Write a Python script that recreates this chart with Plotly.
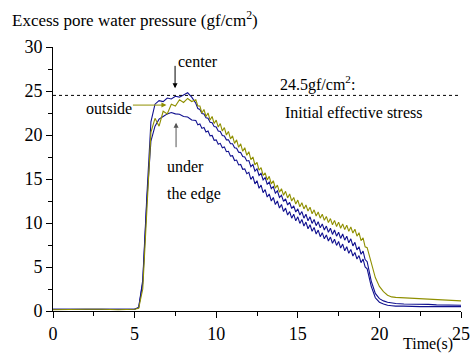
import numpy as np
import plotly.graph_objects as go

# time axis (s)
t_head = [0, 1, 2, 3, 4]
t_rise = [5.0, 5.25, 5.5, 5.75, 6.0, 6.25, 6.5, 6.75, 7.0, 7.25, 7.5, 7.75, 8.0, 8.25, 8.5]
t_fine = [float(v) for v in np.round(np.arange(8.75, 19.2501, 0.125), 3)]
t_drop = [19.5, 19.75, 20.0, 20.25, 20.5, 20.75, 21.0]
t_tail = [21.5, 22, 22.5, 23, 23.5, 24, 24.5, 25]
time = t_head + t_rise + t_fine + t_drop + t_tail

# excess pore water pressure (gf/cm2) — "center"
center_head = [0.2, 0.2, 0.25, 0.2, 0.2]
center_rise = [0.2, 0.4, 3.5, 13.0, 21.5, 23.5, 23.9, 23.8, 24.2, 24.1, 24.4, 24.3, 24.6, 24.8, 24.3]
center_fine = [23.6, 23.0, 22.9, 22.45, 22.4, 21.95, 21.9, 21.45, 21.4, 20.95, 20.9, 20.45, 20.4, 19.95,
               19.9, 19.45, 19.45, 19.0, 19.0, 18.55, 18.5, 18.05, 18.0, 17.55, 17.5, 17.05,
               17.1, 16.4, 16.65, 15.9, 16.15, 15.4, 15.65, 14.9, 15.15, 14.4, 14.65, 13.9, 14.15, 13.4,
               13.65, 12.9, 13.15, 12.45, 12.75, 12.05, 12.35, 11.65, 11.95, 11.25, 11.6, 10.9, 11.3, 10.55,
               11.0, 10.25, 10.7, 9.95, 10.4, 9.7, 10.15, 9.45, 9.9, 9.2, 9.65, 8.95, 9.4, 8.7, 9.2, 8.5,
               8.95, 8.25, 8.75, 8.05, 8.5, 7.75, 8.2, 7.4, 7.8, 6.95, 7.3, 6.45, 6.8, 5.85, 5.6]
center_drop = [3.4, 2.0, 1.4, 1.15, 1.0, 0.9, 0.85]
center_tail = [0.8, 0.8, 0.75, 0.75, 0.7, 0.7, 0.65, 0.65]

# "under the edge"
edge_head = [0.2, 0.2, 0.2, 0.25, 0.2]
edge_rise = [0.2, 0.4, 3.2, 12.5, 19.3, 21.0, 21.8, 22.1, 22.4, 22.55, 22.4, 22.35, 22.1, 22.05, 21.7]
edge_fine = [21.65, 21.15, 21.25, 20.75, 20.85, 20.35, 20.45, 19.9, 19.95, 19.4, 19.45, 18.95, 19.05, 18.55,
             18.65, 18.1, 18.15, 17.6, 17.65, 17.1, 17.15, 16.6, 16.65, 16.1, 16.15, 15.6,
             15.75, 14.95, 15.3, 14.45, 14.8, 13.95, 14.3, 13.45, 13.8, 12.95, 13.3, 12.5, 12.9, 12.1,
             12.5, 11.7, 12.1, 11.3, 11.7, 10.9, 11.3, 10.55, 11.0, 10.25, 10.7, 9.95, 10.4, 9.65,
             10.1, 9.35, 9.8, 9.05, 9.5, 8.75, 9.2, 8.45, 8.9, 8.2, 8.65, 7.95, 8.4, 7.7, 8.15, 7.45,
             7.9, 7.15, 7.6, 6.85, 7.3, 6.55, 7.0, 6.25, 6.65, 5.9, 6.3, 5.5, 5.9, 5.0, 4.8]
edge_drop = [2.8, 1.5, 1.0, 0.8, 0.65, 0.6, 0.55]
edge_tail = [0.55, 0.5, 0.5, 0.5, 0.5, 0.5, 0.5, 0.5]

# "outside"
outside_head = [0.15, 0.2, 0.2, 0.2, 0.15]
outside_rise = [0.2, 0.3, 2.5, 11.5, 20.3, 21.9, 21.0, 22.7, 22.4, 23.5, 23.3, 24.0, 23.7, 24.15, 23.8]
outside_fine = [24.0, 23.3, 23.3, 22.5, 22.9, 22.1, 22.5, 21.7, 22.1, 21.3, 21.7, 20.9, 21.3, 20.45,
                20.85, 20.0, 20.4, 19.55, 19.9, 19.05, 19.45, 18.6, 19.0, 18.15, 18.55, 17.7,
                18.1, 17.2, 17.5, 16.6, 16.9, 16.0, 16.3, 15.4, 15.7, 14.9, 15.3, 14.45, 14.8, 13.95,
                14.3, 13.5, 13.9, 13.15, 13.6, 12.85, 13.3, 12.5, 12.9, 12.15, 12.6, 11.85, 12.3, 11.6,
                12.05, 11.35, 11.8, 11.05, 11.5, 10.8, 11.25, 10.55, 11.0, 10.3, 10.75, 10.05, 10.5, 9.8,
                10.3, 9.6, 10.1, 9.4, 9.9, 9.25, 9.75, 9.05, 9.55, 8.85, 9.3, 8.5, 8.9, 8.0, 8.3, 7.3, 7.2]
outside_drop = [5.5, 3.8, 2.8, 2.2, 1.8, 1.6, 1.55]
outside_tail = [1.5, 1.5, 1.45, 1.4, 1.35, 1.25, 1.2, 1.15]

center = center_head + center_rise + center_fine + center_drop + center_tail
edge = edge_head + edge_rise + edge_fine + edge_drop + edge_tail
outside = outside_head + outside_rise + outside_fine + outside_drop + outside_tail

initial_stress = 24.5
x_ticks = [0, 5, 10, 15, 20, 25]
y_ticks = [0, 5, 10, 15, 20, 25, 30]

BLUE = "#10108f"
OLIVE = "#8f8f00"
FONT = "Times New Roman"

fig = go.Figure()
fig.add_trace(go.Scatter(x=time, y=edge, mode="lines", line=dict(color=BLUE, width=1.1), showlegend=False))
fig.add_trace(go.Scatter(x=time, y=center, mode="lines", line=dict(color=BLUE, width=1.1), showlegend=False))
fig.add_trace(go.Scatter(x=time, y=outside, mode="lines", line=dict(color=OLIVE, width=1.1), showlegend=False))

fig.add_shape(type="line", x0=0, x1=25, y0=initial_stress, y1=initial_stress, xref="x", yref="y",
              line=dict(color="black", width=1, dash="dot"))

ann = []
# arrows
ann.append(dict(x=7.48, y=25.3, ax=0, ay=-24, xref="x", yref="y", text="", showarrow=True,
                arrowhead=2, arrowsize=1, arrowwidth=1, arrowcolor="black"))
ann.append(dict(x=6.95, y=23.4, ax=-35, ay=0, xref="x", yref="y", text="", showarrow=True,
                arrowhead=2, arrowsize=1, arrowwidth=1, arrowcolor=OLIVE))
ann.append(dict(x=7.54, y=21.4, ax=0, ay=26, xref="x", yref="y", text="", showarrow=True,
                arrowhead=2, arrowsize=1, arrowwidth=1, arrowcolor="#555555"))
# labels
lab = dict(xref="x", yref="y", showarrow=False, font=dict(family=FONT, size=16))
ann.append(dict(x=7.55, y=28.3, text="center", xanchor="left", yanchor="middle", **lab))
ann.append(dict(x=4.95, y=23.0, text="outside", xanchor="right", yanchor="middle", **lab))
ann.append(dict(x=6.85, y=16.4, text="under", xanchor="left", yanchor="middle", **lab))
ann.append(dict(x=6.85, y=13.3, text="the edge", xanchor="left", yanchor="middle", **lab))
ann.append(dict(x=13.8, y=25.9, text="24.5gf/cm<sup>2</sup>:", xanchor="left", yanchor="middle", **lab))
ann.append(dict(x=14.1, y=22.6, text="Initial effective stress", xanchor="left", yanchor="middle", **lab))
# axis titles
ann.append(dict(x=-0.105, y=1.105, xref="paper", yref="paper", showarrow=False, xanchor="left", yanchor="middle",
                text="Excess pore water pressure (gf/cm<sup>2</sup>)", font=dict(family=FONT, size=17)))
ann.append(dict(x=0.985, y=-0.125, xref="paper", yref="paper", showarrow=False, xanchor="right", yanchor="middle",
                text="Time(s)", font=dict(family=FONT, size=16)))

fig.update_layout(
    template="none",
    width=476, height=356,
    margin=dict(l=53, r=15, t=47, b=45),
    paper_bgcolor="white", plot_bgcolor="white",
    font=dict(family=FONT, size=17, color="#000000"),
    annotations=ann,
)
axis_common = dict(showgrid=False, zeroline=False, showline=True, linecolor="black", linewidth=1,
                   ticks="outside", ticklen=6, tickwidth=1, tickcolor="black",
                   tickfont=dict(family=FONT, size=18),
                   minor=dict(ticks="outside", ticklen=4, tickwidth=1, tickcolor="black",
                              tickmode="linear", tick0=0, dtick=2.5, showgrid=False))
fig.update_xaxes(range=[0, 25], tickmode="array", tickvals=x_ticks, **axis_common)
fig.update_yaxes(range=[0, 30], tickmode="array", tickvals=y_ticks, **axis_common)

fig.write_html("out.html")
